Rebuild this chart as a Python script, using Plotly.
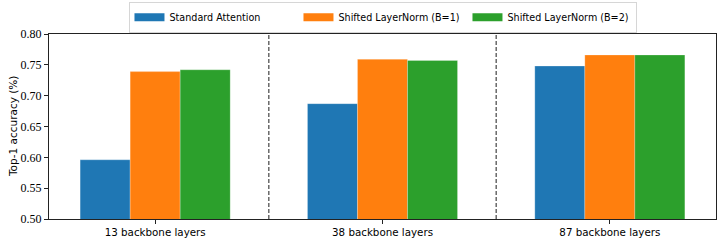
import plotly.graph_objects as go

categories = ["13 backbone layers", "38 backbone layers", "87 backbone layers"]
series_names = ["Standard Attention", "Shifted LayerNorm (B=1)", "Shifted LayerNorm (B=2)"]
standard_attention = [0.596, 0.687, 0.748]
shifted_b1 = [0.739, 0.759, 0.766]
shifted_b2 = [0.742, 0.757, 0.766]
colors = ["#1f77b4", "#ff7f0e", "#2ca02c"]
y_ticks = [0.50, 0.55, 0.60, 0.65, 0.70, 0.75, 0.80]
y_title = "Top-1 accuracy (%)"

xpos = list(range(len(categories)))
fig = go.Figure()
for name, vals, c in zip(series_names, [standard_attention, shifted_b1, shifted_b2], colors):
    fig.add_trace(go.Bar(x=xpos, y=vals, name=name, legendgroup=name, showlegend=False,
                         marker=dict(color=c, line=dict(width=0.6, color="rgba(255,255,255,0.4)"))))
# legend-only proxies (wide patch look like matplotlib)
for name, c in zip(series_names, colors):
    fig.add_trace(go.Scatter(x=[None], y=[None], name=name, legendgroup=name, mode="lines",
                             line=dict(color=c, width=8), showlegend=True, hoverinfo="skip"))

sans = "DejaVu Sans"
serif = "Liberation Serif"
for xv in [0.5, 1.5]:
    fig.add_shape(type="line", x0=xv, x1=xv, y0=0, y1=1, xref="x", yref="paper",
                  line=dict(color="#444444", width=1.2, dash="4px,2px"))

fig.add_annotation(text=y_title, textangle=-90, xref="paper", yref="paper",
                   x=-0.0547, y=0.5, xanchor="center", yanchor="middle", showarrow=False,
                   font=dict(family=sans, size=10.5, color="black"))

fig.update_layout(
    width=723, height=244,
    margin=dict(l=49, r=7, t=34, b=25, autoexpand=False),
    paper_bgcolor="white", plot_bgcolor="white",
    barmode="group", bargap=0.34, bargroupgap=0,
    font=dict(family=sans, size=10.3, color="black"),
    legend=dict(orientation="h", x=0.5304, xanchor="center", y=0.993, yanchor="top",
                xref="container", yref="container",
                bordercolor="#d6d6d6", borderwidth=1, font=dict(family=sans, size=9.6),
                itemwidth=30, tracegroupgap=0, entrywidth=124, entrywidthmode="pixels"),
    xaxis=dict(range=[-0.467, 2.467], tickvals=xpos, ticktext=categories,
               showline=True, mirror=True, linecolor="#222222", linewidth=1,
               ticks="outside", ticklen=4, tickcolor="#222222", showgrid=False,
               tickfont=dict(family=sans, size=10.3), zeroline=False, automargin=False),
    yaxis=dict(range=[0.5, 0.8], tickvals=y_ticks, tickformat=".2f",
               showline=True, mirror=True, linecolor="#222222", linewidth=1,
               ticks="outside", ticklen=4, tickcolor="#222222", showgrid=False,
               tickfont=dict(family=serif, size=12), zeroline=False, automargin=False),
)
fig.write_html("out.html", config={"displayModeBar": False},
               post_script="document.body.style.margin='0';")
